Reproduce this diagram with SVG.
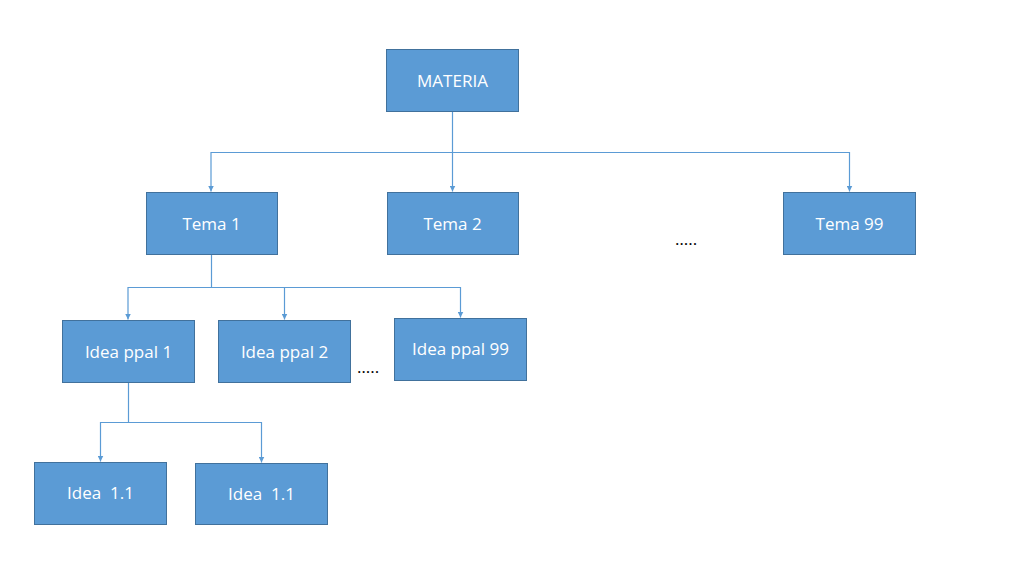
<svg xmlns="http://www.w3.org/2000/svg" width="1024" height="576" viewBox="0 0 1024 576">
<style>
.box{fill:#5B9BD5;stroke:#41719C;stroke-width:1}
.lbl{fill:#FFFFFF;font-family:"Open Sans","Liberation Sans",sans-serif;font-size:17px;text-anchor:middle;dominant-baseline:central;white-space:pre}
.dots{fill:#000000;font-family:"Open Sans","Liberation Sans",sans-serif;font-size:17px}
.con{fill:none;stroke:#5B9BD5;stroke-width:1.2}
</style>
<defs>
<marker id="arr" viewBox="0 0 10 10" refX="10" refY="5" markerWidth="6" markerHeight="6" orient="auto" markerUnits="userSpaceOnUse">
<path d="M0,0 L10,5 L0,10 z" fill="#5B9BD5"/>
</marker>
</defs>
<rect width="1024" height="576" fill="#FFFFFF"/>
<g id="connectors">
<path class="con" d="M452.5,111 V152.5 H211 V191.5" marker-end="url(#arr)"/>
<path class="con" d="M452.5,152.5 V191.5" marker-end="url(#arr)"/>
<path class="con" d="M452.5,152.5 H849.5 V191.5" marker-end="url(#arr)"/>
<path class="con" d="M211.5,254 V287.5 H128 V319.5" marker-end="url(#arr)"/>
<path class="con" d="M211.5,287.5 H284.5 V319.5" marker-end="url(#arr)"/>
<path class="con" d="M284.5,287.5 H460.5 V317.5" marker-end="url(#arr)"/>
<path class="con" d="M128.5,382 V422.5 H100.5 V461.5" marker-end="url(#arr)"/>
<path class="con" d="M128.5,422.5 H261.5 V462.5" marker-end="url(#arr)"/>
</g>
<g id="materia"><rect class="box" x="386.5" y="49.5" width="132" height="62"/><text class="lbl" x="452.5" y="80.5">MATERIA</text></g>
<g id="tema1"><rect class="box" x="146.5" y="192.5" width="131" height="62"/><text class="lbl" x="211.5" y="223.5">Tema 1</text></g>
<g id="tema2"><rect class="box" x="387.5" y="192.5" width="131" height="62"/><text class="lbl" x="452.5" y="223.5">Tema 2</text></g>
<g id="tema99"><rect class="box" x="783.5" y="192.5" width="132" height="62"/><text class="lbl" x="849.5" y="223.5">Tema 99</text></g>
<g id="dots1"><text class="dots" x="675" y="245">…..</text></g>
<g id="ideappal1"><rect class="box" x="62.5" y="320.5" width="132" height="62"/><text class="lbl" x="128.5" y="351">Idea ppal 1</text></g>
<g id="ideappal2"><rect class="box" x="218.5" y="320.5" width="132" height="62"/><text class="lbl" x="284.5" y="351">Idea ppal 2</text></g>
<g id="dots2"><text class="dots" x="357" y="373">…..</text></g>
<g id="ideappal99"><rect class="box" x="394.5" y="318.5" width="132" height="62"/><text class="lbl" x="460.5" y="348.5">Idea ppal 99</text></g>
<g id="idea11a"><rect class="box" x="34.5" y="462.5" width="132" height="62"/><text class="lbl" x="100.5" y="492.5">Idea  1.1</text></g>
<g id="idea11b"><rect class="box" x="195.5" y="463.5" width="132" height="61"/><text class="lbl" x="261.5" y="493">Idea  1.1</text></g>
</svg>
